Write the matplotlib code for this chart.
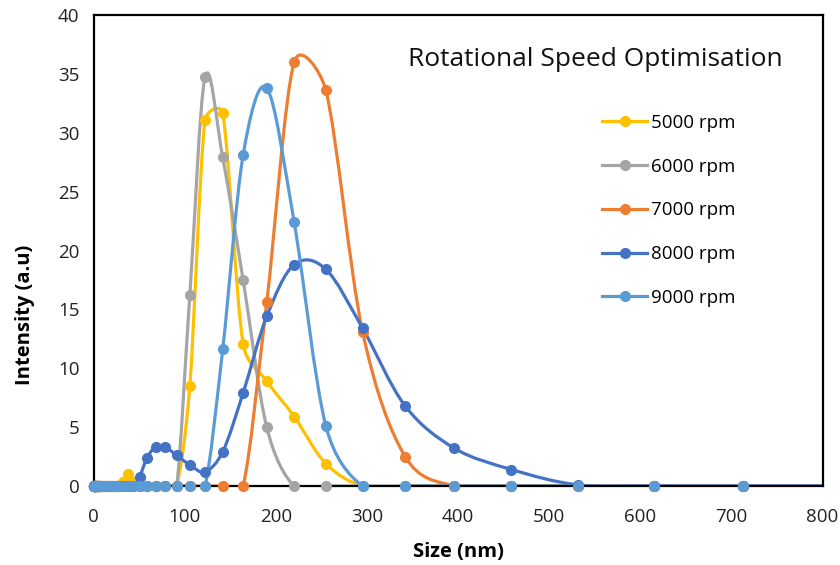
import matplotlib
matplotlib.use("Agg")
import matplotlib.pyplot as plt
from matplotlib.path import Path
from matplotlib.patches import PathPatch
from matplotlib.lines import Line2D

plt.rcParams["font.family"] = ["Open Sans", "DejaVu Sans"]

# DLS size bins (nm)
SIZES = [0.4, 0.4632, 0.5365, 0.6213, 0.7195, 0.8332, 0.9649, 1.117, 1.294, 1.499,
         1.736, 2.01, 2.328, 2.696, 3.122, 3.615, 4.187, 4.849, 5.615, 6.503,
         7.531, 8.721, 10.1, 11.7, 13.54, 15.69, 18.17, 21.04, 24.36, 28.21,
         32.67, 37.84, 43.82, 50.75, 58.77, 68.06, 78.82, 91.28, 105.7, 122.4,
         141.8, 164.2, 190.1, 220.2, 255.0, 295.3, 342.0, 396.1, 458.7, 531.2,
         615.1, 712.4, 825.0, 955.4]

# intensity (a.u), one value per size bin
RPM_5000 = [0, 0, 0, 0, 0, 0, 0, 0, 0, 0,
            0, 0, 0, 0, 0, 0, 0, 0, 0, 0,
            0, 0, 0, 0, 0, 0, 0, 0, 0, 0,
            0.3, 1.0, 0.3, 0, 0, 0, 0, 0, 8.5, 31.1,
            31.7, 12.1, 8.9, 5.9, 1.9, 0, 0, 0, 0, 0,
            0, 0, 0, 0]
RPM_6000 = [0, 0, 0, 0, 0, 0, 0, 0, 0, 0,
            0, 0, 0, 0, 0, 0, 0, 0, 0, 0,
            0, 0, 0, 0, 0, 0, 0, 0, 0, 0,
            0, 0, 0, 0, 0, 0, 0, 0, 16.2, 34.7,
            27.9, 17.5, 5.0, 0, 0, 0, 0, 0, 0, 0,
            0, 0, 0, 0]
RPM_7000 = [0, 0, 0, 0, 0, 0, 0, 0, 0, 0,
            0, 0, 0, 0, 0, 0, 0, 0, 0, 0,
            0, 0, 0, 0, 0, 0, 0, 0, 0, 0,
            0, 0, 0, 0, 0, 0, 0, 0, 0, 0,
            0, 0, 15.6, 36.0, 33.6, 13.1, 2.5, 0, 0, 0,
            0, 0, 0, 0]
RPM_8000 = [0, 0, 0, 0, 0, 0, 0, 0, 0, 0,
            0, 0, 0, 0, 0, 0, 0, 0, 0, 0,
            0, 0, 0, 0, 0, 0, 0, 0, 0, 0,
            0, 0, 0, 0.8, 2.4, 3.3, 3.3, 2.6, 1.8, 1.2,
            2.9, 7.9, 14.4, 18.8, 18.4, 13.4, 6.8, 3.2, 1.4, 0.1,
            0, 0, 0, 0]
RPM_9000 = [0, 0, 0, 0, 0, 0, 0, 0, 0, 0,
            0, 0, 0, 0, 0, 0, 0, 0, 0, 0,
            0, 0, 0, 0, 0, 0, 0, 0, 0, 0,
            0, 0, 0, 0, 0, 0, 0, 0, 0, 0,
            11.6, 28.1, 33.8, 22.4, 5.1, 0, 0, 0, 0, 0,
            0, 0, 0, 0]

LABELS = ["5000 rpm", "6000 rpm", "7000 rpm", "8000 rpm", "9000 rpm"]
COLORS = ["#FFC000", "#A5A5A5", "#ED7D31", "#4472C4", "#5B9BD5"]


def smooth_path(ax, xs, ys):
    # Excel-style smoothed line: cubic bezier, tangent = (next - prev) / 6,
    # limited to half of the segment length (worked out in pixels)
    tr = ax.transData
    pts = [tr.transform((x, y)) for x, y in zip(xs, ys)]
    n = len(pts)

    def dist(a, b):
        return ((a[0] - b[0]) ** 2 + (a[1] - b[1]) ** 2) ** 0.5

    verts = [pts[0]]
    codes = [Path.MOVETO]
    for i in range(n - 1):
        p0, p1 = pts[max(i - 1, 0)], pts[i]
        p2, p3 = pts[i + 1], pts[min(i + 2, n - 1)]
        seg = dist(p1, p2)
        f1 = 1 / 6
        f2 = 1 / 6
        d02 = dist(p0, p2)
        d13 = dist(p1, p3)
        if d02 * f1 > seg / 2:
            f1 = seg / (2 * d02)
        if d13 * f2 > seg / 2:
            f2 = seg / (2 * d13)
        c1 = (p1[0] + (p2[0] - p0[0]) * f1, p1[1] + (p2[1] - p0[1]) * f1)
        c2 = (p2[0] - (p3[0] - p1[0]) * f2, p2[1] - (p3[1] - p1[1]) * f2)
        verts += [c1, c2, p2]
        codes += [Path.CURVE4] * 3
    inv = tr.inverted()
    return Path(inv.transform(verts), codes)


fig = plt.figure(figsize=(8.4, 5.65), dpi=100)
ax = fig.add_axes([93.5 / 840, 1 - 486 / 565, 729 / 840, 471 / 565])
ax.set_xlim(0, 800)
ax.set_ylim(0, 40)

series = [RPM_5000, RPM_6000, RPM_7000, RPM_8000, RPM_9000]
handles = []
for values, label, color in zip(series, LABELS, COLORS):
    patch = PathPatch(smooth_path(ax, SIZES, values), facecolor="none",
                      edgecolor=color, linewidth=2.3, capstyle="round",
                      joinstyle="round")
    ax.add_patch(patch)
    xs = [x for x in SIZES if x <= 800]
    ys = values[:len(xs)]
    ax.plot(xs, ys, "o", color=color, markersize=7, clip_on=False, zorder=3)
    handles.append(Line2D([], [], color=color, linewidth=2.3, marker="o",
                          markersize=7))

ax.set_xticks(range(0, 801, 100))
ax.set_yticks(range(0, 41, 5))
ax.tick_params(length=0, labelsize=13.5, colors="#222222")
ax.tick_params(axis="y", pad=10)
ax.tick_params(axis="x", pad=16)
for spine in ax.spines.values():
    spine.set_linewidth(1.6)
    spine.set_color("black")

ax.set_xlabel("Size (nm)", fontsize=14.5, fontweight="bold", labelpad=11)
fig.text(25 / 840, 1 - 315 / 565, "Intensity (a.u)", rotation=90,
         fontsize=14.5, fontweight="bold", ha="center", va="center")

fig.text(595 / 840, 1 - 59 / 565, "Rotational Speed Optimisation",
         fontsize=19, ha="center", va="center", color="#111111")

ax.legend(handles, LABELS, loc="upper left",
          bbox_to_anchor=(602 / 840, 1 - 114 / 565),
          bbox_transform=fig.transFigure, frameon=False, fontsize=13.5,
          handlelength=2.4, handletextpad=0.2, labelspacing=1.37,
          borderpad=0, borderaxespad=0)

fig.savefig("out.png", dpi=100)
